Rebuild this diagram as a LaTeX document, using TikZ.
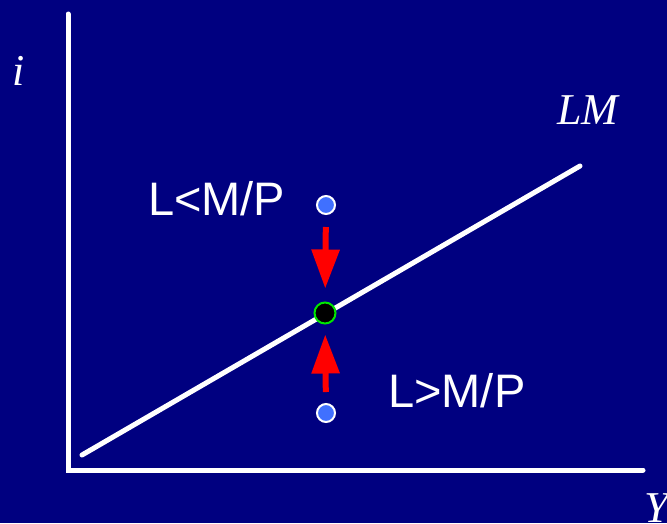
\documentclass[tikz,border=0pt]{standalone}
\usepackage{fontspec}
\setmainfont{Liberation Serif}
\setsansfont{Liberation Sans}
\usetikzlibrary{arrows.meta}
\definecolor{navy}{RGB}{0,0,128}
\definecolor{dotblue}{RGB}{64,112,255}
\definecolor{eqgreen}{RGB}{0,230,0}

\begin{document}
\begin{tikzpicture}[x=1pt, y=-1pt,
    axisline/.style={white, line width=5pt, line cap=round},
    statedot/.style={circle, fill=dotblue, draw=white, line width=2pt, minimum size=18pt, inner sep=0pt},
    eqdot/.style={circle, fill=black, draw=eqgreen, line width=2pt, minimum size=21pt, inner sep=0pt},
    adjarrow/.style={red, line width=6pt, -{Triangle[width=27pt, length=39pt]}},
    sanslabel/.style={white, font=\sffamily\fontsize{47}{50}\selectfont, inner sep=0pt},
    seriflabel/.style={white, font=\itshape\fontsize{44}{46}\selectfont, inner sep=0pt}]
        % Background
        \fill[navy] (0,0) rectangle (667,523);
        \useasboundingbox (0,0) rectangle (667,523);

        % Axes
        \draw[axisline] (68,14) -- (68,470) -- (643,470);
        \node[seriflabel, anchor=base west] (ilabel) at (12,85) {i};
        \node[seriflabel, anchor=base west] (ylabel) at (644,522) {Y};

        % LM curve
        \draw[axisline] (82,455) -- (580,166);
        \node[seriflabel, anchor=base west] (lmlabel) at (557,124) {LM};

        % Points
        \node[statedot] (above) at (326,205) {};
        \node[eqdot] (eq) at (325,313) {};
        \node[statedot] (below) at (326,413) {};

        % Adjustment arrows
        \draw[adjarrow, shorten <=12pt, shorten >=13pt] (above) -- (eq);
        \draw[adjarrow, shorten <=11pt, shorten >=10pt] (below) -- (eq);

        % Labels
        \node[sanslabel, anchor=base west] (excessmoney) at (148,215) {L<M/P};
        \node[sanslabel, anchor=base west] (excessdemand) at (388,407) {L>M/P};
    \end{tikzpicture}
\end{document}
